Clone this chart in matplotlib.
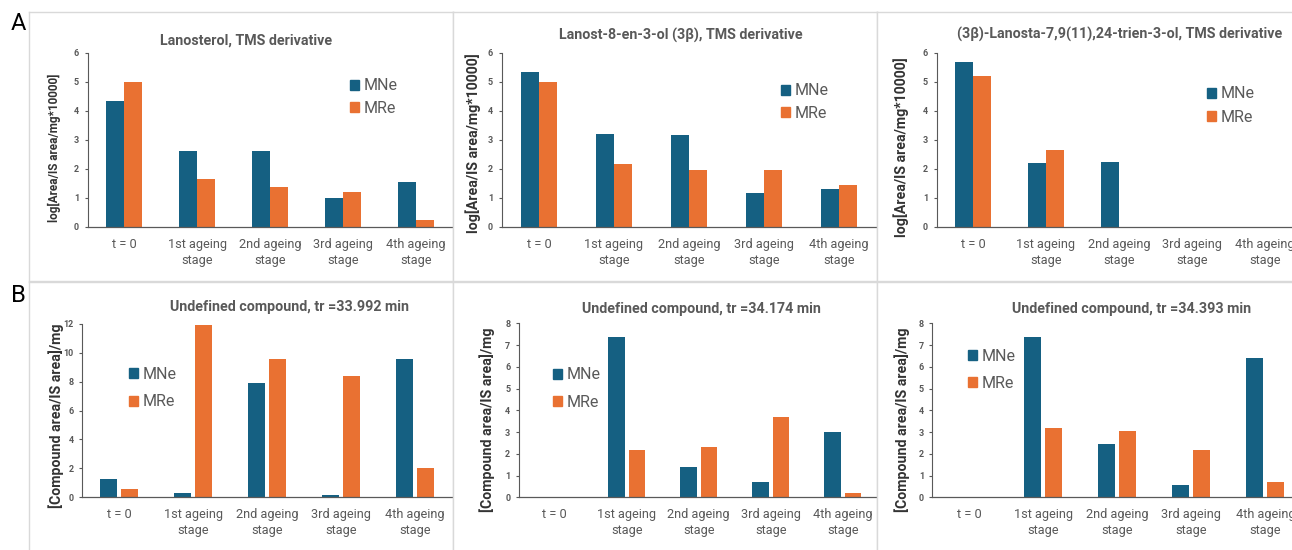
import matplotlib as mpl
mpl.use('Agg')
import matplotlib.pyplot as plt
from matplotlib.patches import Patch
import numpy as np

plt.rcParams['font.family'] = ['Roboto', 'DejaVu Sans']

W, H = 1292, 550
MNE_COL = '#156082'
MRE_COL = '#E97132'
GREY = '#595959'

stages = ['t = 0', '1st ageing\nstage', '2nd ageing\nstage', '3rd ageing\nstage', '4th ageing\nstage']

# sterols, log[Area/IS area/mg*10000]
lano_mne = [4.33, 2.61, 2.60, 0.98, 1.54]
lano_mre = [5.00, 1.63, 1.38, 1.18, 0.24]
lanost8_mne = [5.33, 3.18, 3.16, 1.15, 1.31]
lanost8_mre = [4.99, 2.16, 1.95, 1.94, 1.44]
trien_mne = [5.69, 2.20, 2.22, 0, 0]
trien_mre = [5.20, 2.63, 0, 0, 0]

# undefined compounds, [Compound area/IS area]/mg
tr33992_mne = [1.29, 0.28, 7.90, 0.18, 9.58]
tr33992_mre = [0.55, 11.89, 9.58, 8.39, 2.00]
tr34174_mne = [0, 7.39, 1.38, 0.72, 2.99]
tr34174_mre = [0, 2.18, 2.31, 3.68, 0.18]
tr34393_mne = [0, 7.36, 2.44, 0.57, 6.39]
tr34393_mre = [0, 3.20, 3.03, 2.19, 0.69]

fig = plt.figure(figsize=(W / 100, H / 100), dpi=100)


def fx(x):
  return x / W


def fy(y):
  return 1 - y / H


def frame(x0, y0, x1, y1, z):
  bg = fig.add_axes([fx(x0), fy(y1), (x1 - x0) / W, (y1 - y0) / H], zorder=z)
  bg.set_xticks([])
  bg.set_yticks([])
  bg.set_facecolor('white')
  for s in bg.spines.values():
    s.set_color('#D9D9D9')
    s.set_linewidth(1)


def chart(l, r, b, t, mne, mre, ymax, ystep, title, tpos,
          ylabel, ypos, ysize, legpos, legsp, width, off, z):
  ax = fig.add_axes([fx(l), fy(b), (r - l) / W, (b - t) / H], zorder=z)
  ax.set_facecolor('none')
  x = np.arange(len(stages))
  ax.bar(x - off, mne, width, color=MNE_COL, linewidth=0)
  ax.bar(x + off, mre, width, color=MRE_COL, linewidth=0)
  ax.set_xlim(-0.5, 4.5)
  ax.set_ylim(0, ymax)
  ax.set_yticks(np.arange(0, ymax + ystep, ystep))
  ax.set_xticks(x)
  ax.set_xticklabels(stages, fontsize=9.2, color=GREY, linespacing=1.3)
  for lab in ax.get_yticklabels():
    lab.set_fontweight('bold')
    lab.set_fontsize(6.5)
    lab.set_color(GREY)
  ax.tick_params(axis='x', length=0, pad=8)
  ax.tick_params(axis='y', length=2.5, width=0.8, color=GREY, pad=3.5)
  ax.spines['top'].set_visible(False)
  ax.spines['right'].set_visible(False)
  ax.spines['left'].set_color(GREY)
  ax.spines['bottom'].set_color(GREY)
  ax.spines['left'].set_linewidth(0.8)
  ax.spines['bottom'].set_linewidth(0.9)

  ax.text(fx(tpos[0]), fy(tpos[1]), title, transform=fig.transFigure,
          ha='center', va='center', fontsize=10.3, fontweight='bold', color=GREY)
  ax.text(fx(ypos[0]), fy(ypos[1]), ylabel, transform=fig.transFigure, rotation=90,
          ha='center', va='center', fontsize=ysize, fontweight='bold', color='#333333')

  handles = [Patch(color=MNE_COL, label='MNe'), Patch(color=MRE_COL, label='MRe')]
  ax.legend(handles=handles, loc='center left', bbox_to_anchor=(fx(legpos[0]), fy(legpos[1])),
            bbox_transform=fig.transFigure, frameon=False, fontsize=11.5, labelcolor=GREY,
            handlelength=0.58, handleheight=0.58, handletextpad=0.3,
            borderpad=0, borderaxespad=0, labelspacing=legsp)
  return ax


top_lab = 'log[Area/IS area/mg*10000]'
bot_lab = '[Compound area/IS area]/mg'

# row A
frame(29, 12, 453, 281, 1)
chart(87.5, 452.5, 226.7, 52.7, lano_mne, lano_mre, 6, 1,
      'Lanosterol, TMS derivative', (246, 41),
      top_lab, (54, 148), 8.5, (350, 97), 0.44, 0.24, 0.12, 2)
frame(453, 12, 877, 281, 3)
chart(501.5, 876.5, 226.7, 52.7, lanost8_mne, lanost8_mre, 6, 1,
      'Lanost-8-en-3-ol (3β), TMS derivative', (681, 35),
      top_lab, (473, 143), 10.2, (781, 102), 0.44, 0.24, 0.12, 4)
frame(877, 12, 1310, 281, 5)
chart(936.5, 1301.5, 226.7, 52.7, trien_mne, trien_mre, 6, 1,
      '(3β)-Lanosta-7,9(11),24-trien-3-ol, TMS derivative', (1120, 34),
      top_lab, (901, 147), 10.2, (1207, 105.5), 0.53, 0.24, 0.12, 6)

# row B
frame(29, 282, 453, 560, 7)
chart(82, 452, 497.3, 323.7, tr33992_mne, tr33992_mre, 12, 2,
      'Undefined compound, tr =33.992 min', (289, 307.5),
      bot_lab, (56, 416), 10.2, (129, 388), 0.78, 0.23, 0.142, 8)
frame(453, 282, 877, 560, 9)
chart(518.7, 878.7, 497.3, 323.3, tr34174_mne, tr34174_mre, 8, 1,
      'Undefined compound, tr =34.174 min', (701, 309.5),
      bot_lab, (487, 420), 10.2, (553, 388.5), 0.78, 0.23, 0.142, 10)
frame(877, 282, 1310, 560, 11)
chart(932.3, 1302.3, 497.3, 323.3, tr34393_mne, tr34393_mre, 8, 1,
      'Undefined compound, tr =34.393 min', (1132, 309.5),
      bot_lab, (902, 420), 10.2, (968, 370), 0.75, 0.23, 0.142, 12)

fig.text(fx(18), fy(23), 'A', fontsize=17, ha='center', va='center', zorder=100)
fig.text(fx(18), fy(295), 'B', fontsize=17, ha='center', va='center', zorder=100)

plt.savefig('out.png', dpi=100)
